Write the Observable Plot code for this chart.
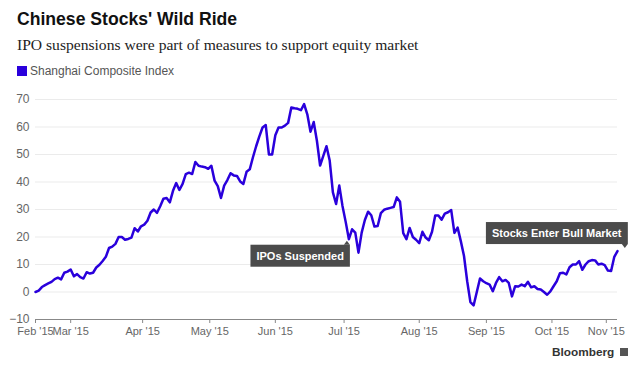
<!DOCTYPE html>
<html>
<head>
<meta charset="utf-8">
<script src="https://cdn.jsdelivr.net/npm/d3@7"></script>
<script src="https://cdn.jsdelivr.net/npm/@observablehq/plot@0.6"></script>
<style>
  body { margin:0; background:#fff; width:640px; height:373px; overflow:hidden; position:relative;
         font-family:"Liberation Sans", Arial, sans-serif; }
  #title { position:absolute; left:17px; top:9px; font-weight:bold; font-size:17.6px; color:#111; white-space:nowrap; }
  #subtitle { position:absolute; left:17px; top:36px; font-family:"Liberation Serif", serif; font-size:15.6px; color:#222; white-space:nowrap; }
  #legend { position:absolute; left:17px; top:64px; font-size:12px; color:#555; display:flex; align-items:center; white-space:nowrap; }
  #legend .sw { width:10px; height:10px; background:#2a00dc; margin-right:3px; display:inline-block; }
  #chart { position:absolute; left:0; top:85px; }
  #footer { position:absolute; left:552px; top:345px; font-size:11.8px; font-weight:bold; color:#333; display:flex; align-items:center; white-space:nowrap; }
  #footer .logo { width:8px; height:8px; background:#555; margin-left:6px; display:inline-block; }
</style>
</head>
<body>
<div id="title">Chinese Stocks' Wild Ride</div>
<div id="subtitle">IPO suspensions were part of measures to support equity market</div>
<div id="legend"><span class="sw"></span><span id="seriesName"></span></div>
<div id="chart"></div>
<div id="footer"><span>Bloomberg</span><span class="logo"></span></div>
<script>
// Shanghai Composite Index, % change, one value per trading day
const seriesName = "Shanghai Composite Index";
const values = [
  0, 0.5, 1.8, 2.5, 3.1, 3.7, 4.7, 5.2, 4.6, 7, 7.4, 8.2, 5.7, 6.5, 5.4, 4.9, 7.2, 6.7, 7, 8.9,
  9.9, 11.3, 12.8, 16, 16.5, 17.5, 20, 20, 19, 19.3, 19.8, 23.2, 22, 23.9, 24.5, 25.9, 28.9, 30, 28.8, 31.2,
  33.9, 34.2, 32.6, 36.8, 39.6, 37.1, 39.3, 42.9, 43.4, 42.9, 47.3, 45.9, 45.6, 45.4, 44.8, 45.9, 40.5, 38.5, 34.2, 38.7,
  40.7, 43.2, 42.4, 42.2, 40.2, 39.3, 43.7, 44.6, 49, 53, 56.6, 59.8, 60.7, 50, 50, 57, 59.8, 59.8, 60.5, 61.5,
  67.1, 66.8, 66.6, 66.1, 68.3, 64.6, 58.3, 61.8, 55, 46, 49.5, 53, 47.8, 36.2, 32, 38.7, 31.3, 25.5, 19.2, 22.8,
  21.6, 14.3, 21.6, 26.2, 29.2, 27.9, 23.8, 24, 28.7, 29.9, 30.3, 30.6, 30.9, 34.4, 32.8, 21.4, 19.2, 23.3, 20, 19,
  17.8, 21.9, 19.8, 18.8, 21.9, 27.8, 27.8, 26.3, 28.5, 29, 29.8, 21.5, 23.4, 18.5, 13.1, 3.9, -3.7, -4.9, 0, 4.9,
  3.9, 3.2, 2.7, 0.3, 3.3, 5.4, 3.9, 4.4, 3.3, -1.6, 2.1, 2, 2.7, 2.1, 3.7, 1.7, 2.1, 1.1, 0.9, 0,
  -1, 0.2, 2.1, 3.9, 6.8, 7, 6.4, 9, 10, 10, 11.2, 8.1, 10, 11.2, 11.6, 11.5, 10, 10.3, 9.8, 7.8,
  7.6, 12.8, 14.9
];
const tickDays = [0, 11, 33.5, 54.5, 75, 96.5, 120, 141, 161.5, 178.5];
const tickLabels = ["Feb '15", "Mar '15", "Apr '15", "May '15", "Jun '15", "Jul '15", "Aug '15", "Sep '15", "Oct '15", "Nov '15"];
const yTicks = [-10, 0, 10, 20, 30, 40, 50, 60, 70];
const gridValues = [0, 10, 20, 30, 40, 50, 60, 70];
const noteDays = [98, 182];
const noteLabels = ["IPOs Suspended", "Stocks Enter Bull Market"];

document.getElementById("seriesName").textContent = seriesName;

const data = values.map((v, i) => ({day: i, value: v}));
const notes = noteDays.map((d, i) => ({day: d, value: values[d], label: noteLabels[i]}));
const lineColor = "#2a00dc";

const chart = Plot.plot({
  width: 640,
  height: 288,
  marginLeft: 35,
  marginRight: 23,
  marginTop: 14,
  marginBottom: 54,
  x: {domain: [0, values.length - 1]},
  y: {domain: [-10, 70]},
  style: {fontFamily: "'Liberation Sans', Arial, sans-serif", fontSize: "11px", color: "#666", background: "#fff"},
  marks: [
    Plot.ruleY(gridValues, {stroke: "#ebebeb", strokeWidth: 1}),
    Plot.axisY({ticks: yTicks, tickSize: 0, tickPadding: 6, label: null, fill: "#666", fontSize: 12}),
    Plot.axisX({ticks: tickDays, tickFormat: d => tickLabels[tickDays.indexOf(d)], tickSize: 4, tickPadding: 4, label: null, stroke: "#888", fill: "#666", fontSize: 11}),
    Plot.ruleY([-10], {stroke: "#888", strokeWidth: 1}),
    Plot.line(data, {x: "day", y: "value", stroke: lineColor, strokeWidth: 2.5, strokeLinejoin: "round"}),
    Plot.text(notes.slice(0, 1), {x: "day", y: "value", text: "label", textAnchor: "end", dx: -5, dy: 17, fill: "#fff", fontWeight: "bold", fontSize: 11}),
    Plot.text(notes.slice(1), {x: "day", y: "value", text: "label", textAnchor: "end", dx: 4, dy: -17.5, fill: "#fff", fontWeight: "bold", fontSize: 11})
  ]
});
document.getElementById("chart").appendChild(chart);

// dark label boxes behind annotation texts, sized from the rendered text
const NS = "http://www.w3.org/2000/svg";
chart.querySelectorAll("text").forEach(t => {
  const idx = noteLabels.indexOf(t.textContent);
  if (idx < 0) return;
  const b = t.getBBox();
  const padX = 6, padY = 5;
  const rx = b.x - padX, ry = b.y - padY, rw = b.width + 2 * padX, rh = b.height + 2 * padY;
  const rect = document.createElementNS(NS, "rect");
  rect.setAttribute("x", rx); rect.setAttribute("y", ry);
  rect.setAttribute("width", rw); rect.setAttribute("height", rh);
  rect.setAttribute("fill", "#4b4b4b");
  const tri = document.createElementNS(NS, "polygon");
  const px = rx + rw - 3;
  const pts = idx === 0
    ? [[px - 3, ry], [px + 3, ry], [px, ry - 4]]
    : [[px - 3, ry + rh], [px + 3, ry + rh], [px, ry + rh + 4]];
  tri.setAttribute("points", pts.map(p => p.join(",")).join(" "));
  tri.setAttribute("fill", "#4b4b4b");
  const tr = t.getAttribute("transform");
  if (tr) { rect.setAttribute("transform", tr); tri.setAttribute("transform", tr); }
  t.parentNode.insertBefore(rect, t);
  t.parentNode.insertBefore(tri, t);
});
</script>
</body>
</html>
